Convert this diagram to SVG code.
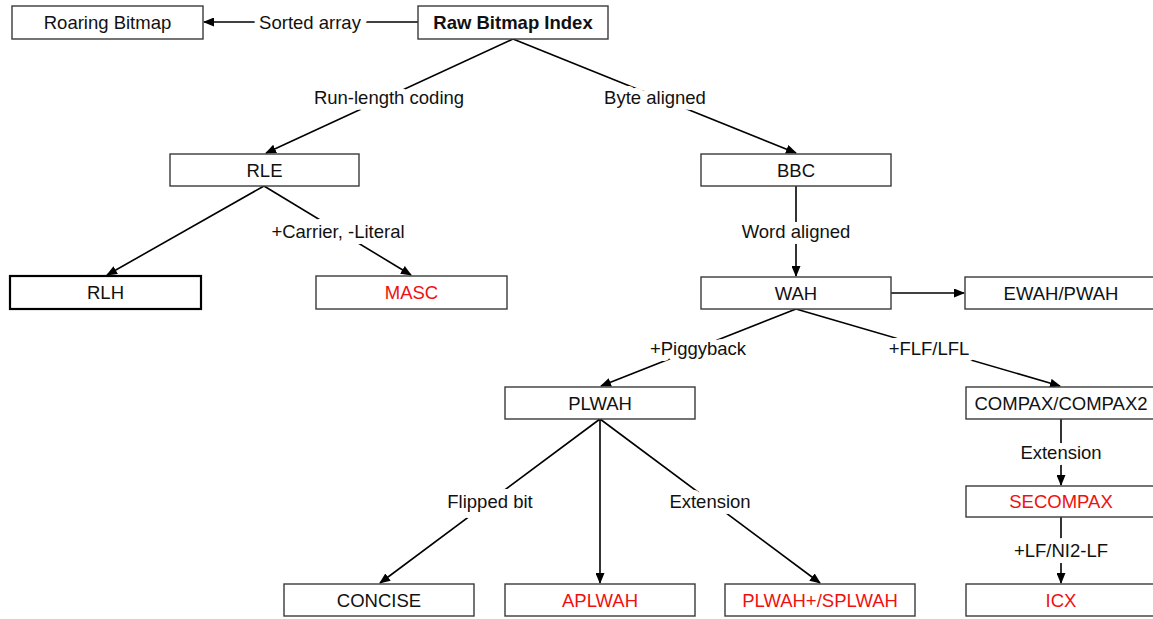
<svg xmlns="http://www.w3.org/2000/svg" width="1153" height="619" viewBox="0 0 1153 619">
<style>
.box{fill:#fff;stroke:#3a3a3a;stroke-width:1.4}
.thick{stroke:#000;stroke-width:2.2}
.t{font-family:"Liberation Sans",Arial,sans-serif;font-size:18.5px;fill:#111;text-anchor:middle}
.b{font-weight:bold}
.red{fill:#f01010}
.lab{font-family:"Liberation Sans",Arial,sans-serif;font-size:18.5px;fill:#111;text-anchor:middle;stroke:#fff;stroke-width:12;paint-order:stroke fill;stroke-linejoin:round}
.e{stroke:#000;stroke-width:1.6;fill:none}
</style>
<defs>
<marker id="ah" markerUnits="userSpaceOnUse" markerWidth="11" markerHeight="9" refX="10" refY="4.5" orient="auto">
<path d="M0,0 L11,4.5 L0,9 z" fill="#000"/>
</marker>
</defs>
<rect width="1153" height="619" fill="#fff"/>
<g id="connectors">
<line class="e" x1="418" y1="22" x2="204" y2="22" marker-end="url(#ah)"/>
<line class="e" x1="513" y1="39" x2="266" y2="153" marker-end="url(#ah)"/>
<line class="e" x1="513" y1="39" x2="796" y2="153" marker-end="url(#ah)"/>
<line class="e" x1="264" y1="186" x2="107" y2="275" marker-end="url(#ah)"/>
<line class="e" x1="264" y1="186" x2="411" y2="275" marker-end="url(#ah)"/>
<line class="e" x1="796" y1="186" x2="796" y2="276" marker-end="url(#ah)"/>
<line class="e" x1="891" y1="293" x2="964" y2="293" marker-end="url(#ah)"/>
<line class="e" x1="796" y1="309" x2="601" y2="386" marker-end="url(#ah)"/>
<line class="e" x1="796" y1="309" x2="1060" y2="386" marker-end="url(#ah)"/>
<line class="e" x1="600" y1="419" x2="380" y2="583" marker-end="url(#ah)"/>
<line class="e" x1="600" y1="419" x2="600" y2="583" marker-end="url(#ah)"/>
<line class="e" x1="600" y1="419" x2="820" y2="583" marker-end="url(#ah)"/>
<line class="e" x1="1061" y1="419" x2="1061" y2="485" marker-end="url(#ah)"/>
<line class="e" x1="1061" y1="517" x2="1061" y2="583" marker-end="url(#ah)"/>
<text class="lab" x="310" y="28.5">Sorted array</text>
<text class="lab" x="389" y="103.5">Run-length coding</text>
<text class="lab" x="655" y="103.5">Byte aligned</text>
<text class="lab" x="338" y="237.5">+Carrier, -Literal</text>
<text class="lab" x="796" y="237.5">Word aligned</text>
<text class="lab" x="698" y="354.5">+Piggyback</text>
<text class="lab" x="929" y="354.5">+FLF/LFL</text>
<text class="lab" x="490" y="507.5">Flipped bit</text>
<text class="lab" x="710" y="507.5">Extension</text>
<text class="lab" x="1061" y="458.5">Extension</text>
<text class="lab" x="1061" y="556.5">+LF/NI2-LF</text>
</g>
<g id="roaring"><rect class="box" x="12" y="6" width="191" height="33"/><text class="t" x="107.5" y="29">Roaring Bitmap</text></g>
<g id="raw"><rect class="box" x="418" y="6" width="190" height="33"/><text class="t b" x="513" y="29">Raw Bitmap Index</text></g>
<g id="rle"><rect class="box" x="170" y="154" width="189" height="32"/><text class="t" x="264.5" y="176.5">RLE</text></g>
<g id="bbc"><rect class="box" x="701" y="154" width="190" height="32"/><text class="t" x="796" y="176.5">BBC</text></g>
<g id="rlh"><rect class="box thick" x="10" y="276" width="191" height="33"/><text class="t" x="105.5" y="299">RLH</text></g>
<g id="masc"><rect class="box" x="316" y="276" width="191" height="33"/><text class="t red" x="411.5" y="299">MASC</text></g>
<g id="wah"><rect class="box" x="701" y="277" width="190" height="32"/><text class="t" x="796" y="299.5">WAH</text></g>
<g id="ewah"><rect class="box" x="965" y="277" width="192" height="32"/><text class="t" x="1061" y="299.5">EWAH/PWAH</text></g>
<g id="plwah"><rect class="box" x="505" y="387" width="190" height="32"/><text class="t" x="600" y="409.5">PLWAH</text></g>
<g id="compax"><rect class="box" x="966" y="387" width="191" height="32"/><text class="t" x="1061" y="409.5">COMPAX/COMPAX2</text></g>
<g id="secompax"><rect class="box" x="966" y="486" width="191" height="31"/><text class="t red" x="1061" y="508">SECOMPAX</text></g>
<g id="concise"><rect class="box" x="284" y="584" width="190" height="32"/><text class="t" x="379" y="606.5">CONCISE</text></g>
<g id="aplwah"><rect class="box" x="505" y="584" width="190" height="32"/><text class="t red" x="600" y="606.5">APLWAH</text></g>
<g id="splwah"><rect class="box" x="725" y="584" width="190" height="32"/><text class="t red" x="820" y="606.5">PLWAH+/SPLWAH</text></g>
<g id="icx"><rect class="box" x="966" y="584" width="191" height="32"/><text class="t red" x="1061" y="606.5">ICX</text></g>
</svg>
